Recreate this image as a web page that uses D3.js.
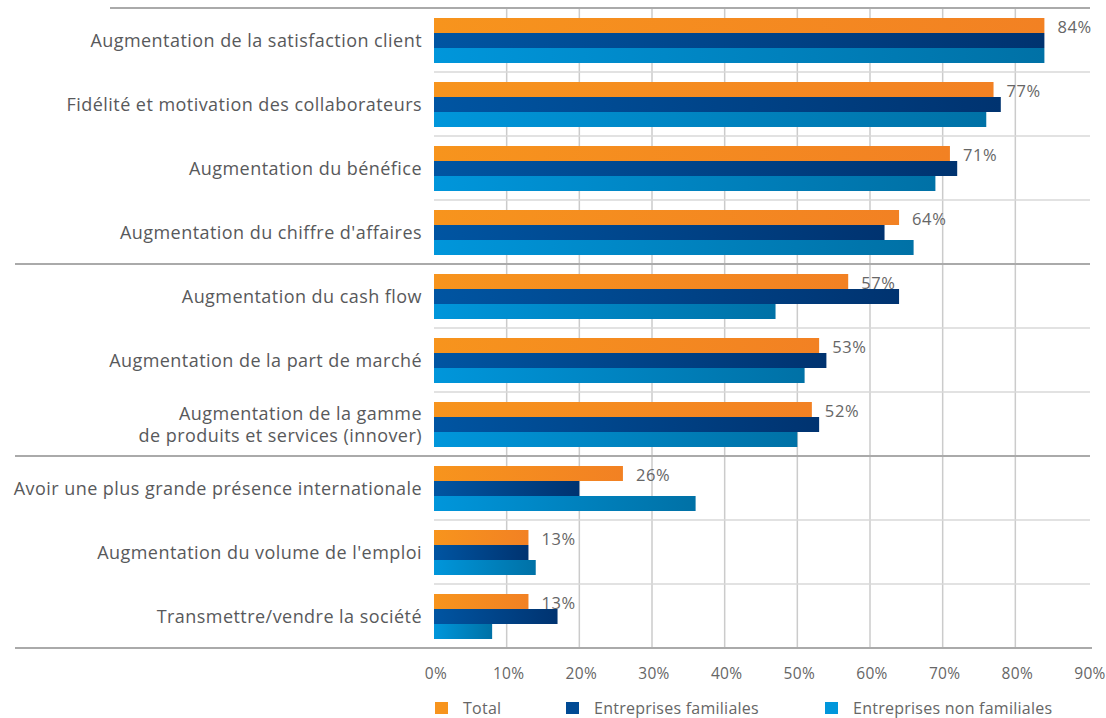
<!DOCTYPE html>
<html>
<head>
<meta charset="utf-8">
<script src="https://cdn.jsdelivr.net/npm/d3@7"></script>
<style>
  body { margin: 0; background: #fff; }
  svg { font-family: "Open Sans", sans-serif; }
</style>
</head>
<body>
<svg width="1106" height="718"></svg>
<script>
const categories = [
  "Augmentation de la satisfaction client",
  "Fidélité et motivation des collaborateurs",
  "Augmentation du bénéfice",
  "Augmentation du chiffre d'affaires",
  "Augmentation du cash flow",
  "Augmentation de la part de marché",
  "Augmentation de la gamme\nde produits et services (innover)",
  "Avoir une plus grande présence internationale",
  "Augmentation du volume de l'emploi",
  "Transmettre/vendre la société"
];
const seriesNames = ["Total", "Entreprises familiales", "Entreprises non familiales"];
const total = [84, 77, 71, 64, 57, 53, 52, 26, 13, 13];
const familiales = [84, 78, 72, 62, 64, 54, 53, 20, 13, 17];
const nonFamiliales = [84, 76, 69, 66, 47, 51, 50, 36, 14, 8];
const tickValues = [0, 10, 20, 30, 40, 50, 60, 70, 80, 90];
// rows after which a heavy separator is drawn
const groupBreaks = [3, 6];

const seriesValues = [total, familiales, nonFamiliales];
const gradStops = [
  ["#f7941d", "#f28123"],
  ["#0055a2", "#003370"],
  ["#0096db", "#0071a6"]
];
const legendColors = ["#f7941d", "#004a94", "#0096db"];

const svg = d3.select("svg");
const margin = {top: 8, left: 434, right: 1090, bottom: 648};

const x = d3.scaleLinear().domain([0, 90]).range([434, 1088]);
const y = d3.scaleBand().domain(d3.range(categories.length)).range([margin.top, margin.bottom]);
const ySub = d3.scaleBand().domain(d3.range(3)).range([10, 55]);

const defs = svg.append("defs");
gradStops.forEach((s, i) => {
  const g = defs.append("linearGradient").attr("id", "grad" + i)
    .attr("x1", 0).attr("x2", 1).attr("y1", 0).attr("y2", 0);
  g.append("stop").attr("offset", 0).attr("stop-color", s[0]);
  g.append("stop").attr("offset", 1).attr("stop-color", s[1]);
});

// vertical gridlines
svg.append("g").selectAll("line")
  .data(tickValues.filter(d => d > 0 && d < 90))
  .enter().append("line")
    .attr("x1", d => x(d)).attr("x2", d => x(d))
    .attr("y1", margin.top).attr("y2", margin.bottom)
    .attr("stroke", "#cbcbcb").attr("stroke-width", 1.5);

// thin row separators
const thinRows = d3.range(1, categories.length).filter(i => !groupBreaks.includes(i - 1));
svg.append("g").selectAll("line")
  .data(thinRows)
  .enter().append("line")
    .attr("x1", 434).attr("x2", margin.right)
    .attr("y1", d => y(d)).attr("y2", d => y(d))
    .attr("stroke", "#d9d9d9").attr("stroke-width", 1.5);

// heavy separators
svg.append("g").selectAll("line")
  .data(groupBreaks.map(i => i + 1))
  .enter().append("line")
    .attr("x1", 15).attr("x2", margin.right)
    .attr("y1", d => y(d)).attr("y2", d => y(d))
    .attr("stroke", "#aaaaaa").attr("stroke-width", 2);

svg.append("line")
  .attr("x1", 110).attr("x2", margin.right)
  .attr("y1", margin.top).attr("y2", margin.top)
  .attr("stroke", "#aaaaaa").attr("stroke-width", 2);

// bars
const rows = svg.append("g").selectAll("g")
  .data(categories)
  .enter().append("g")
    .attr("transform", (d, i) => `translate(0,${y(i)})`);

rows.selectAll("rect")
  .data((d, i) => seriesValues.map((s, k) => ({k, v: s[i]})))
  .enter().append("rect")
    .attr("x", x(0))
    .attr("y", d => ySub(d.k))
    .attr("width", d => x(d.v) - x(0))
    .attr("height", ySub.bandwidth())
    .attr("fill", d => `url(#grad${d.k})`);

// value labels (total)
rows.append("text")
  .attr("x", (d, i) => x(total[i]) + 13)
  .attr("y", ySub(0) + ySub.bandwidth() / 2 + 1.5)
  .attr("dy", "0.35em")
  .attr("font-size", 16.5)
  .attr("letter-spacing", 0.6)
  .attr("fill", "#666")
  .text((d, i) => total[i] + "%");

// category labels
rows.append("text")
  .attr("x", 422)
  .attr("text-anchor", "end")
  .attr("font-size", 18)
  .attr("letter-spacing", 0.45)
  .attr("fill", "#58595b")
  .each(function(d) {
    const lines = d.split("\n");
    const t = d3.select(this);
    lines.forEach((line, j) => {
      t.append("tspan")
        .attr("x", 422)
        .attr("y", y.bandwidth() / 2 + 1 + (j - (lines.length - 1) / 2) * 22)
        .attr("dy", "0.35em")
        .text(line);
    });
  });

// bottom axis
svg.append("g")
  .attr("transform", `translate(0,${margin.bottom})`)
  .call(d3.axisBottom(x).tickValues(tickValues).tickFormat(d => d + "%").tickSize(0).tickPadding(20))
  .call(g => g.select(".domain").remove())
  .call(g => g.selectAll("text")
    .attr("dx", 1.5)
    .attr("font-size", 15.5)
    .attr("letter-spacing", 0.3)
    .attr("fill", "#666")
    .attr("font-family", "'Open Sans', sans-serif"));

svg.append("line")
  .attr("x1", 15).attr("x2", 1092)
  .attr("y1", margin.bottom).attr("y2", margin.bottom)
  .attr("stroke", "#aaaaaa").attr("stroke-width", 2);

// legend
const legendX = [435, 566, 825];
const legend = svg.append("g").selectAll("g")
  .data(seriesNames)
  .enter().append("g")
    .attr("transform", (d, i) => `translate(${legendX[i]},708)`);
legend.append("rect")
  .attr("x", 0).attr("y", -6).attr("width", 13).attr("height", 12)
  .attr("fill", (d, i) => legendColors[i]);
legend.append("text")
  .attr("x", 28).attr("y", 0).attr("dy", "0.35em")
  .attr("font-size", 16)
  .attr("letter-spacing", 0.25)
  .attr("fill", "#666")
  .text(d => d);
</script>
</body>
</html>
